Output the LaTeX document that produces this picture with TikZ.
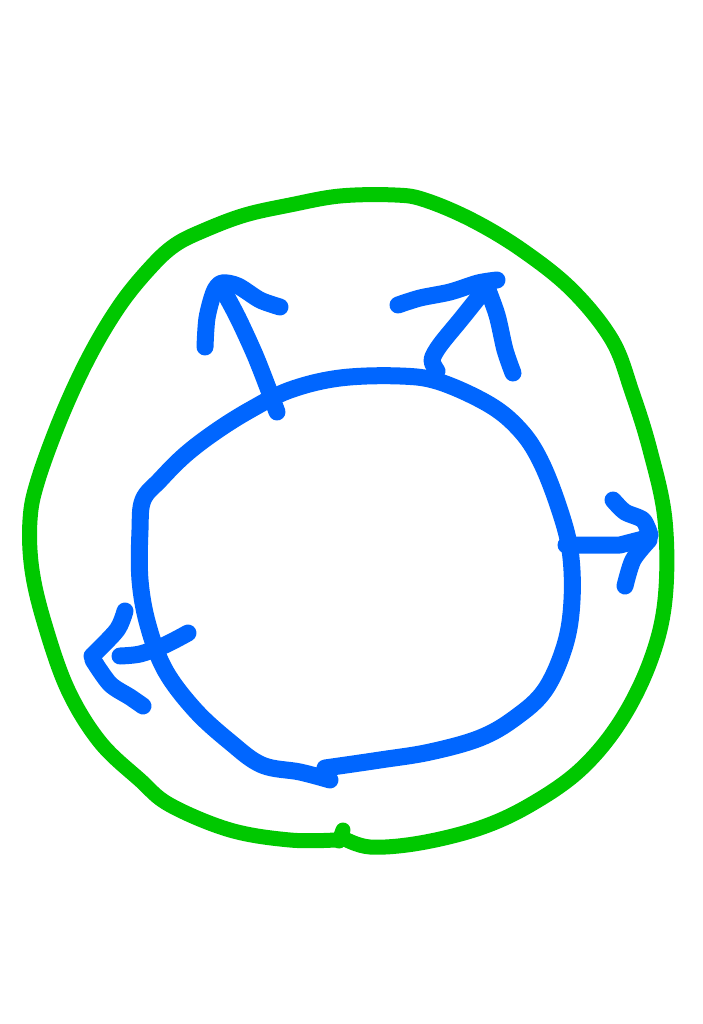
\documentclass[tikz,border=0pt]{standalone}
\definecolor{pen green}{HTML}{00C800}
\definecolor{pen blue}{HTML}{0066FF}
\tikzset{
  greenstroke/.style={draw=pen green, line width=15pt, line cap=round, line join=round},
  bluestroke/.style={draw=pen blue, line width=17pt, line cap=round, line join=round}
}
\begin{document}
\begin{tikzpicture}[x=1pt,y=-1pt]
\useasboundingbox[fill=white] (0,0) rectangle (703,1024);
% outer green circle
\draw[greenstroke] plot[smooth, tension=0.6] coordinates {
 (343,838) (370,847) (420,843) (480,828) (530,805) (580,770) (620,722) (650,662)
 (665,600) (665,520) (650,450) (632,392) (612,340) (572,290) (522,250) (472,220)
 (425,200) (395,195) (340,196) (290,205) (245,215) (205,230) (175,245) (150,268)
 (120,305) (90,355) (62,415) (38,480) (30,520) (32,570) (45,625) (68,690)
 (100,742) (140,780) (170,805) (230,830) (290,840) (335,840)};
\draw[greenstroke] (339,841) -- (343,830);
% inner blue circle
\draw[bluestroke] plot[smooth, tension=0.6] coordinates {
 (325,768) (380,760) (430,752) (480,738) (515,718) (545,690) (565,645) (572,600)
 (570,550) (558,505) (540,460) (520,430) (490,405) (440,382) (400,376) (340,378)
 (290,390) (250,410) (215,432) (185,455) (160,480) (143,500) (140,530) (140,580)
 (148,625) (165,670) (195,710) (230,742) (262,765) (300,772) (330,780)};
% top-left arrow
\draw[bluestroke] plot[smooth] coordinates {(277,412) (268,388) (255,355) (238,318) (222,288)};
\draw[bluestroke] plot[smooth] coordinates {(205,347) (207,318) (214,292) (222,283) (238,286) (260,300) (280,307)};
% top-right arrow
\draw[bluestroke] plot[smooth] coordinates {(437,371) (432,360) (440,345) (462,318) (490,283)};
\draw[bluestroke] plot[smooth] coordinates {(398,305) (420,298) (450,292) (478,283) (497,280)};
\draw[bluestroke] plot[smooth] coordinates {(486,285) (497,315) (505,350) (513,373)};
% right arrow
\draw[bluestroke] (566,545) -- (620,545) -- (647,538);
\draw[bluestroke] plot[smooth] coordinates {(613,500) (625,512) (643,520) (650,535)};
\draw[bluestroke] plot[smooth] coordinates {(649,540) (633,560) (625,586)};
% left arrow
\draw[bluestroke] plot[smooth] coordinates {(188,633) (165,645) (140,654) (120,656)};
\draw[bluestroke] plot[smooth] coordinates {(125,611) (117,630) (92,656)};
\draw[bluestroke] plot[smooth] coordinates {(93,660) (110,684) (130,697) (143,706)};
\end{tikzpicture}
\end{document}
